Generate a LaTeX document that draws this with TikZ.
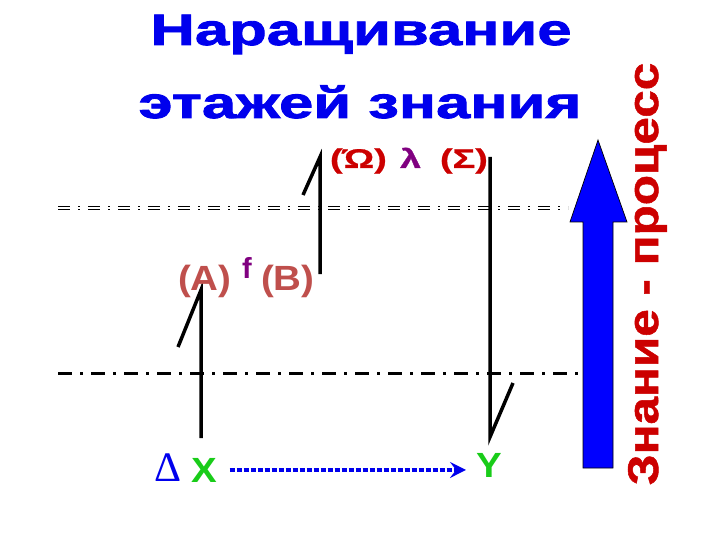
\documentclass[tikz,border=0pt]{standalone}
\usepackage{fontspec}
\setmainfont{Liberation Sans}
\newfontfamily\widefont{Liberation Sans}[FakeStretch=1.40,FakeBold=2]
\newfontfamily\greekfont{Liberation Sans}[FakeStretch=1.4,FakeBold=1]
\newfontfamily\labelfont{Liberation Sans}[FakeStretch=1.1]
\newfontfamily\sidefont{Liberation Sans}[FakeStretch=1.15,FakeBold=1.2]
\newfontfamily\deltafont{Liberation Serif}
\usetikzlibrary{arrows.meta}
\newlength{\du}
\setlength{\du}{1pt}
\tikzset{
  floorline/.style={line width=3.5\du,line join=miter,line cap=butt},
  txt/.style={anchor=base west,inner sep=0pt,outer sep=0pt},
}

\begin{document}
\begin{tikzpicture}
\pgftransformxscale{1.000000}
\pgftransformyscale{-1.000000}
\definecolor{titleblue}{rgb}{0.000000, 0.000000, 0.930000}
\definecolor{greekred}{rgb}{0.800000, 0.000000, 0.000000}
\definecolor{letterred}{rgb}{0.750000, 0.310000, 0.300000}
\definecolor{funcpurple}{rgb}{0.500000, 0.000000, 0.500000}
\definecolor{pointgreen}{rgb}{0.100000, 0.800000, 0.100000}
\definecolor{arrowblue}{rgb}{0.000000, 0.000000, 1.000000}
\useasboundingbox (0\du,0\du) rectangle (720\du,540\du);
% floors
\draw[line width=1.1\du,double,double distance=1.3\du,dash pattern=on 12\du off 8\du on 2\du off 8\du] (58\du,208\du)--(568\du,208\du);
\draw[line width=3\du,dash pattern=on 14\du off 8\du on 3\du off 8\du] (58\du,373\du)--(583\du,373\du);
% steps
\draw[floorline] (178\du,347\du)--(201\du,290\du)--(201\du,438\du);
\draw[floorline] (303\du,195\du)--(320\du,157\du)--(320\du,274\du);
\draw[floorline] (490\du,157\du)--(490\du,437\du)--(513\du,383\du);
% title
\node[anchor=base,inner sep=0pt,color=titleblue] (title1) at (361\du,45\du){\widefont\bfseries\fontsize{44}{44}\selectfont Наращивание};
\node[anchor=base,inner sep=0pt,color=titleblue] (title2) at (360\du,118\du){\widefont\bfseries\fontsize{44}{44}\selectfont этажей знания};
% upper floor
\node[txt,color=greekred] (omega) at (330\du,168\du){\greekfont\bfseries\fontsize{27}{27}\selectfont (Ώ)};
\node[txt,color=funcpurple] (lambda) at (400\du,168\du){\greekfont\bfseries\fontsize{27}{27}\selectfont λ};
\node[txt,color=greekred] (sigma) at (440\du,168\du){\greekfont\bfseries\fontsize{27}{27}\selectfont (Σ)};
% middle floor
\node[txt,color=letterred] (setA) at (178\du,290\du){\labelfont\bfseries\fontsize{35}{35}\selectfont (A)};
\node[txt,color=funcpurple] (func) at (242\du,278\du){\bfseries\fontsize{29}{29}\selectfont f};
\node[txt,color=letterred] (setB) at (261\du,290\du){\labelfont\bfseries\fontsize{35}{35}\selectfont (B)};
% ground floor
\node[txt,color=titleblue] (delta) at (154\du,481\du){\deltafont\fontsize{42}{42}\selectfont Δ};
\node[txt,color=pointgreen] (ptX) at (191\du,482\du){\labelfont\bfseries\fontsize{35}{35}\selectfont X};
\node[txt,color=pointgreen] (ptY) at (476\du,477\du){\labelfont\bfseries\fontsize{35}{35}\selectfont Y};
\draw[line width=3.5\du,color=titleblue,dash pattern=on 5\du off 2\du,shorten <=13\du,shorten >=10\du,-{Stealth[length=16pt,width=16pt,inset=6pt]}] (ptX.east)--(ptX.east -| ptY.west);
% process arrow
\draw[line width=0.7\du,fill=arrowblue] (583\du,468\du)--(613\du,468\du)--(613\du,222\du)--(627\du,222\du)--(598\du,140\du)--(570\du,222\du)--(583\du,222\du)--cycle;
\node[rotate=90,anchor=base,inner sep=0pt,color=greekred] (process) at (658\du,274\du){\sidefont\bfseries\fontsize{43}{43}\selectfont Знание - процесс};
\end{tikzpicture}
\end{document}
